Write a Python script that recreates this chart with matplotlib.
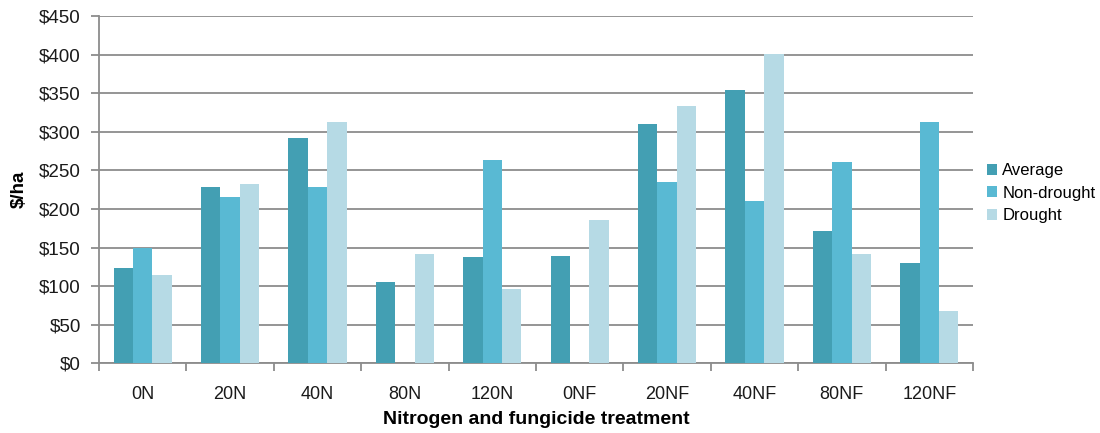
import matplotlib
matplotlib.use("Agg")
import matplotlib.pyplot as plt
import numpy as np
from matplotlib.ticker import FuncFormatter, MultipleLocator

plt.rcParams['font.family'] = ['Liberation Sans', 'DejaVu Sans']

categories = ["0N", "20N", "40N", "80N", "120N", "0NF", "20NF", "40NF", "80NF", "120NF"]
average = [123, 228, 292, 105, 138, 139, 310, 354, 172, 130]
non_drought = [149, 216, 228, 0, 264, 0, 235, 210, 261, 313]
drought = [114, 232, 313, 141, 96, 186, 334, 401, 142, 68]

series = [("Average", average, "#439fb3"),
          ("Non-drought", non_drought, "#59b9d3"),
          ("Drought", drought, "#b6dae5")]

fig = plt.figure(figsize=(11, 4.33), dpi=100)
ax = fig.add_axes([0.09, 0.161, 0.7945, 0.802])

x = np.arange(len(categories))
w = 0.222
for i, (name, vals, col) in enumerate(series):
    ax.bar(x + (i - 1) * w, vals, width=w, color=col, label=name,
           linewidth=0, zorder=3)

ax.set_xlim(-0.5, len(categories) - 0.5)
ax.set_ylim(0, 450)
ax.yaxis.set_major_locator(MultipleLocator(50))
ax.yaxis.set_major_formatter(FuncFormatter(lambda v, p: f"${v:.0f}"))
ax.grid(axis="y", color="#8c8c8c", linewidth=1.3, zorder=0)

# category labels centred, tick marks at category boundaries
ax.set_xticks(x)
ax.set_xticklabels(categories)
ax.tick_params(axis="x", length=0, pad=16, labelsize=13, colors="#1a1a1a")
ax.set_xticks(np.arange(-0.5, len(categories)), minor=True)
ax.tick_params(axis="x", which="minor", length=6, width=1.3, color="#8c8c8c", direction="out")
ax.tick_params(axis="y", length=6, width=1.3, labelsize=13.5, pad=7,
               color="#8c8c8c", labelcolor="#1a1a1a")

for s in ["top", "right"]:
    ax.spines[s].set_visible(False)
for s in ["left", "bottom"]:
    ax.spines[s].set_color("#8c8c8c")
    ax.spines[s].set_linewidth(1.3)

ax.set_ylabel("$/ha", fontsize=13.5, fontweight="bold", labelpad=8)
ax.set_xlabel("Nitrogen and fungicide treatment", fontsize=14, fontweight="bold", labelpad=6)

leg = ax.legend(loc="center left", bbox_to_anchor=(1.003, 0.49), frameon=False,
                fontsize=12, handlelength=0.6, handleheight=0.6, handletextpad=0.3,
                labelspacing=0.45, borderaxespad=0.3)

fig.savefig("out.png", dpi=100)
